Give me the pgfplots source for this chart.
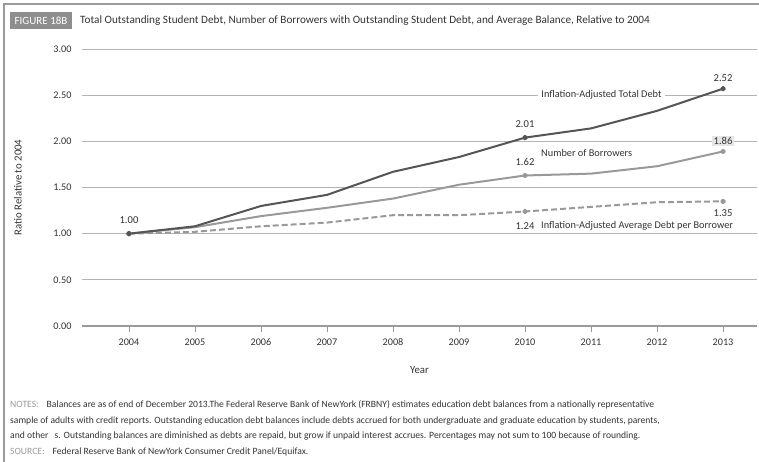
\documentclass[border=0pt]{standalone}
\usepackage{pgfplots}
\pgfplotsset{compat=1.18}
\usepackage{fontspec}
\setmainfont{Carlito}
\definecolor{darkline}{HTML}{555555}
\definecolor{lightline}{HTML}{999999}
\definecolor{gridgray}{HTML}{B4B4B4}
\definecolor{axgray}{HTML}{9A9A9A}
\definecolor{txt}{HTML}{333333}
\definecolor{notegray}{HTML}{9A9A9A}
\definecolor{boxgray}{HTML}{8E8E8E}
\definecolor{labelbg}{HTML}{E6E6E6}
\newcommand{\fs}[1]{\fontsize{#1bp}{#1bp}\selectfont}
\begin{document}
\begin{tikzpicture}[x=1bp,y=1bp]
\path[use as bounding box] (0,0) rectangle (759,462);
% frame
\draw[axgray, line width=1.2bp] (4,0) -- (4,458) -- (759,458);
% figure tag
\fill[boxgray] (10,433) rectangle (72,450);
\node[anchor=center, text=white, font=\fs{11}, inner sep=0] at (41,441.5) {FIGURE 18B};
\node[anchor=west, text=txt, font=\fs{11.2}, inner sep=0] at (80,441.5) {Total Outstanding Student Debt, Number of Borrowers with Outstanding Student Debt, and Average Balance, Relative to 2004};
% notes
\node[anchor=base west, inner sep=0, font=\fs{9.6}, text=txt] at (10,54) {\textcolor{notegray}{NOTES:}\hspace{8bp}Balances are as of end of December 2013.The Federal Reserve Bank of NewYork (FRBNY) estimates education debt balances from a nationally representative};
\node[anchor=base west, inner sep=0, font=\fs{9.6}, text=txt] at (10,38.5) {sample of adults with credit reports. Outstanding education debt balances include debts accrued for both undergraduate and graduate education by students, parents,};
\node[anchor=base west, inner sep=0, font=\fs{9.6}, text=txt] at (10,23) {and other\hspace{4bp} s. Outstanding balances are diminished as debts are repaid, but grow if unpaid interest accrues. Percentages may not sum to 100 because of rounding.};
\node[anchor=base west, inner sep=0, font=\fs{9.6}, text=txt] at (10,7) {\textcolor{notegray}{SOURCE:}\hspace{8bp}Federal Reserve Bank of NewYork Consumer Credit Panel/Equifax.};
\begin{axis}[
  at={(82bp,136bp)}, anchor=south west,
  scale only axis, width=675bp, height=277bp,
  xmin=2003.288, xmax=2013.515, ymin=0, ymax=3,
  axis x line*=bottom, axis y line*=left,
  y axis line style={draw=none},
  x axis line style={draw=axgray, line width=1.3bp},
  xtick={2004,2005,...,2013},
  ytick={0,0.5,1,1.5,2,2.5,3},
  ymajorgrids, grid style={gridgray, line width=0.9bp},
  tick align=outside,
  xtick style={draw=axgray, line width=0.8bp},
  major tick length=6bp,
  ytick style={draw=none},
  /pgf/number format/assume math mode=true,
  x tick label style={font=\fs{10.2}, text=txt, /pgf/number format/1000 sep={}, yshift=-3bp},
  y tick label style={font=\fs{10.2}, text=txt, xshift=-1bp, /pgf/number format/fixed, /pgf/number format/fixed zerofill, /pgf/number format/precision=2},
  xlabel={Year}, xlabel style={font=\fs{10.8}, text=txt, at={(axis description cs:0.5,0)}, anchor=center, yshift=-44bp},
  ylabel={Ratio Relative to 2004}, ylabel style={font=\fs{10.8}, text=txt, at={(axis description cs:-0.0948,0.5)}, anchor=center},
  clip=false,
]
\addplot[color=lightline, line width=2bp, dash pattern=on 6bp off 3bp, line join=round, mark=*, mark size=1.8bp, mark options={solid}, mark indices={1,7,10}]
 coordinates {(2004,1.00) (2005,1.02) (2006,1.08) (2007,1.12) (2008,1.20) (2009,1.20) (2010,1.24) (2011,1.29) (2012,1.34) (2013,1.35)};
\addplot[color=lightline, line width=2bp, line join=round, mark=*, mark size=1.8bp, mark indices={1,7,10}]
 coordinates {(2004,1.00) (2005,1.07) (2006,1.19) (2007,1.28) (2008,1.38) (2009,1.53) (2010,1.63) (2011,1.65) (2012,1.73) (2013,1.89)};
\addplot[color=darkline, line width=2bp, line join=round, mark=*, mark size=1.8bp, mark indices={1,7,10}]
 coordinates {(2004,1.00) (2005,1.08) (2006,1.30) (2007,1.42) (2008,1.67) (2009,1.83) (2010,2.04) (2011,2.14) (2012,2.33) (2013,2.57)};
\begin{scope}[every node/.style={font=\fs{10.6}, text=txt, inner sep=1.5bp}]
\node at (axis cs:2004,1.148) {1.00};
\node at (axis cs:2010,2.19) {2.01};
\node at (axis cs:2013,2.686) {2.52};
\node at (axis cs:2010,1.776) {1.62};
\node[fill=labelbg] at (axis cs:2013,2.0) {1.86};
\node at (axis cs:2013,1.224) {1.35};
\node at (axis cs:2010,1.083) {1.24};
\end{scope}
\begin{scope}[every node/.style={font=\fs{10.3}, text=txt, inner sep=1.5bp}]
\node[anchor=west, fill=white, inner xsep=3bp] at (axis cs:2010.20,2.5) {Inflation-Adjusted Total Debt};
\node[anchor=west] at (axis cs:2010.22,1.874) {Number of Borrowers};
\node[anchor=west] at (axis cs:2010.22,1.083) {Inflation-Adjusted Average Debt per Borrower};
\end{scope}
\end{axis}
\end{tikzpicture}
\end{document}
